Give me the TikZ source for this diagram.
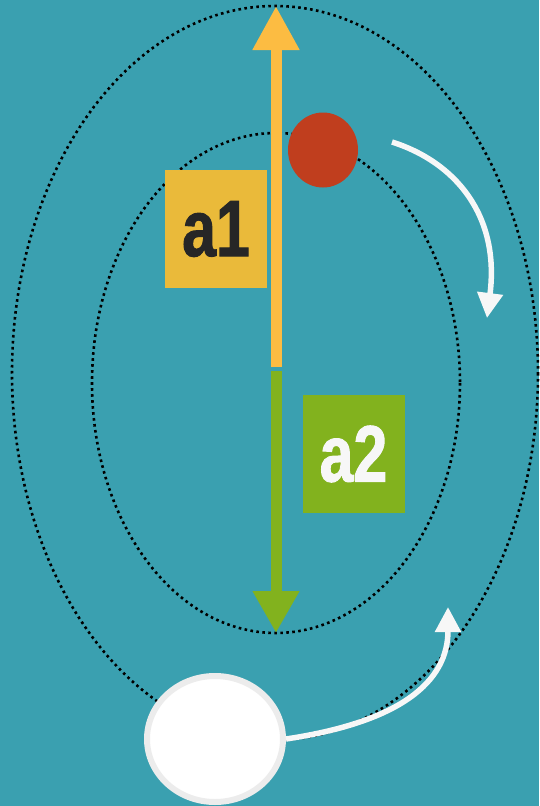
\documentclass[tikz,border=0pt]{standalone}
\usepackage{fontspec}
\usetikzlibrary{arrows.meta,shapes.geometric}
\newfontfamily\labelfont[FakeStretch=0.76,FakeBold=1.2]{Liberation Sans}
\definecolor{bgteal}{RGB}{58,160,176}
\definecolor{ayellow}{RGB}{252,188,66}
\definecolor{boxyellow}{RGB}{234,186,58}
\definecolor{agreen}{RGB}{130,178,30}
\definecolor{ballred}{RGB}{192,62,30}
\definecolor{rimgray}{RGB}{236,236,236}

\begin{document}
\begin{tikzpicture}[x=1pt, y=-1pt,
    dotline/.style={black, line width=2.6pt, dash pattern=on 2.6pt off 3.4pt},
    labelbox/.style={minimum width=102pt, minimum height=118pt, inner sep=0pt},
    whitearrow/.style={white!94!gray, line width=5.5pt, -{Triangle[length=25pt, width=25pt]}}]
    % 背景
    \fill[bgteal] (0,0) rectangle (539,806);
    \useasboundingbox (0,0) rectangle (539,806);

    % 两个椭圆轨道（点线）
    \draw[dotline] (275,373) ellipse [x radius=263, y radius=367];
    \draw[dotline] (276,383) ellipse [x radius=184, y radius=250];

    % 竖直箭头的端点
    \coordinate (ytop) at (276,6);
    \coordinate (ybot) at (276,367);
    \coordinate (gtop) at (276,371);
    \coordinate (gbot) at (276,633);

    % 黄色箭头（向上）和绿色箭头（向下）
    \draw[ayellow, line width=11pt, -{Triangle[length=44pt, width=44pt]}] (ybot) -- (ytop);
    \draw[agreen, line width=11pt, -{Triangle[length=42pt, width=44pt]}] (gtop) -- (gbot);

    % 标签方块
    \node[labelbox, fill=boxyellow] (a1) at (216,229)
        {\labelfont\bfseries\fontsize{80}{80}\selectfont\color{black!85}a1};
    \node[labelbox, fill=agreen, text=white!94!gray] (a2) at (353.5,454)
        {\labelfont\bfseries\fontsize{80}{80}\selectfont a2};

    % 红球和白球
    \node[ellipse, fill=ballred, minimum width=70pt, minimum height=75pt, inner sep=0pt] (ball) at (323,150) {};
    \node[ellipse, fill=white, draw=rimgray, line width=6pt, minimum width=136pt, minimum height=126pt, inner sep=0pt] (earth) at (215,739) {};

    % 白色弯箭头
    \coordinate (r1) at (392,142);
    \coordinate (r2) at (487,318);
    \draw[whitearrow] (r1) .. controls (455,162) and (500,215) .. (r2);
    \coordinate (b2) at (448,607);
    \draw[whitearrow] (earth.east) .. controls (400,722) and (448,682) .. (b2);
\end{tikzpicture}
\end{document}
